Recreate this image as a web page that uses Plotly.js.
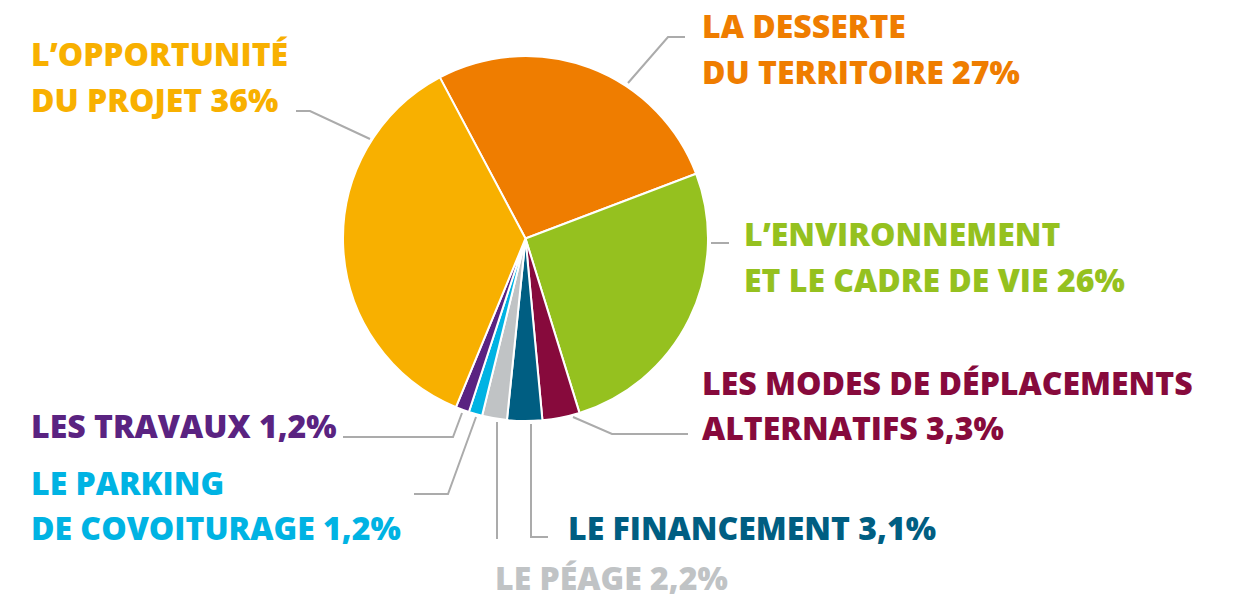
<!DOCTYPE html>
<html>
<head>
<meta charset="utf-8">
<script src="https://cdn.plot.ly/plotly-3.0.1.min.js"></script>
<style>html,body{margin:0;padding:0;background:#fff;}#chart{width:1236px;height:596px;}</style>
</head>
<body>
<div id="chart"></div>
<script>
// ---- data ----
const categories = ["LA DESSERTE DU TERRITOIRE", "L’ENVIRONNEMENT ET LE CADRE DE VIE", "LES MODES DE DÉPLACEMENTS ALTERNATIFS", "LE FINANCEMENT", "LE PÉAGE", "LE PARKING DE COVOITURAGE", "LES TRAVAUX", "L’OPPORTUNITÉ DU PROJET"];
const values = [27, 26, 3.3, 3.1, 2.2, 1.2, 1.2, 36];
const labelLines = [
  ["LA DESSERTE", "DU TERRITOIRE"],
  ["L’ENVIRONNEMENT", "ET LE CADRE DE VIE"],
  ["LES MODES DE DÉPLACEMENTS", "ALTERNATIFS"],
  ["LE FINANCEMENT"],
  ["LE PÉAGE"],
  ["LE PARKING", "DE COVOITURAGE"],
  ["LES TRAVAUX"],
  ["L’OPPORTUNITÉ", "DU PROJET"]
];
const colors = ["#EF7D00", "#95C11F", "#870A3C", "#005E82", "#C0C3C5", "#00B3E3", "#5A2381", "#F8B000"];

// ---- layout helpers (pixel -> paper) ----
const W = 1236, H = 596;
const px = x => x / W, py = y => 1 - y / H;
const cx = 525.5, cy = 238.5, R = 182.5;

// label positions (left x, first-line center y) and leader paths in pixels
const labelPos = [
  [700, 25.5], [742, 234], [700, 382], [566, 527], [493, 577], [29, 482], [29, 425], [29, 53.5]
];
const lineGap = 45.5;
const leaders = [
  [[628, 83], [668, 37], [685, 37]],
  [[711, 243], [729, 243]],
  [[573, 417], [612, 434], [688, 434]],
  [[531, 424], [531, 537], [548, 537]],
  [[497, 422], [497, 539]],
  [[476, 417], [448, 494], [414, 494]],
  [[462, 413], [453, 437], [343, 437]],
  [[370, 139], [310, 111], [296, 111]]
];

const fmt = v => String(v).replace('.', ',');

const annotations = [];
labelLines.forEach((lines, i) => {
  lines.forEach((t, j) => {
    const last = j === lines.length - 1;
    annotations.push({
      xref: 'paper', yref: 'paper',
      x: px(labelPos[i][0]), y: py(labelPos[i][1] + j * lineGap),
      xanchor: 'left', yanchor: 'middle', showarrow: false,
      text: last ? t + ' ' + fmt(values[i]) + '%' : t,
      font: {family: 'Open Sans', size: 32, weight: 800, color: colors[i]}
    });
  });
});

const shapes = leaders.map(pts => ({
  type: 'path', xref: 'paper', yref: 'paper',
  path: pts.map((p, k) => (k ? 'L' : 'M') + px(p[0]) + ',' + py(p[1])).join(' '),
  line: {color: '#ABABAB', width: 2}
}));

const trace = {
  type: 'pie',
  labels: categories,
  values: values,
  sort: false,
  direction: 'clockwise',
  rotation: -28,
  textinfo: 'none',
  hoverinfo: 'label+percent',
  marker: {colors: colors, line: {color: '#ffffff', width: 2}},
  domain: {x: [px(cx - R), px(cx + R)], y: [py(cy + R), py(cy - R)]},
  showlegend: false
};

Plotly.newPlot('chart', [trace], {
  width: W, height: H,
  margin: {l: 0, r: 0, t: 0, b: 0},
  paper_bgcolor: '#ffffff',
  showlegend: false,
  annotations: annotations,
  shapes: shapes
}, {displayModeBar: false, staticPlot: true});
</script>
</body>
</html>
